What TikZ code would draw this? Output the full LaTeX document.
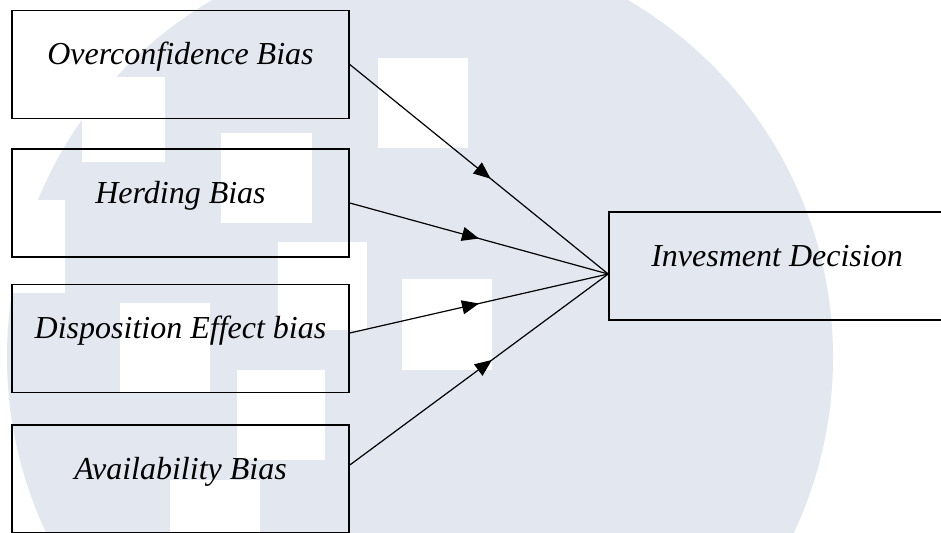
\documentclass[tikz,border=0pt]{standalone}
\usepackage{fontspec}
\setmainfont{Liberation Serif}
\usetikzlibrary{arrows.meta,decorations.markings}
\definecolor{wmgray}{RGB}{227,231,240}
\begin{document}
\begin{tikzpicture}[x=1pt,y=-1pt,
  labelfont/.style={font=\fontsize{32}{38}\selectfont\itshape},
  biasbox/.style={draw,line width=1.6pt,minimum width=337pt,minimum height=108pt,
    inner sep=0pt,text height=10pt,text depth=10pt,labelfont},
  outbox/.style={biasbox,minimum width=336pt},
  link/.style={line width=1.2pt,postaction={decorate},
    decoration={markings,mark=at position #1 with {\arrow{Triangle[length=17pt,width=14pt]}}}},
]
\useasboundingbox (0,0) rectangle (941,532);
\fill[white] (0,0) rectangle (941,532);

% faint logo in the background
\fill[wmgray] (420,357) circle[radius=413pt];
\foreach \x/\y/\X/\Y in {82/77/165/162, 221/133/312/223, 378/58/468/148,
    278/242/367/330, 120/303/210/393, 237/370/325/460, 402/279/492/370,
    170/480/260/570, -25/200/65/293}
  \fill[white] (\x,\y) rectangle (\X,\Y);

% factor boxes
\node[biasbox] (b1) at (180.5,64.5) {Overconfidence Bias};
\node[biasbox] (b2) at (180.5,203) {Herding Bias};
\node[biasbox] (b3) at (180.5,338.5) {Disposition Effect bias};
\node[biasbox] (b4) at (180.5,479) {Availability Bias};

% outcome box
\node[outbox] (dec) at (777,266) {Invesment Decision};

\coordinate (hub) at ([yshift=-8pt]dec.west);

% influences
\draw[link=0.545] (b1.east) -- (hub);
\draw[link=0.5] (b2.east) -- (hub);
\draw[link=0.5] ([yshift=5.5pt]b3.east) -- (hub);
\draw[link=0.55] ([yshift=14pt]b4.east) -- (hub);
\end{tikzpicture}
\end{document}
